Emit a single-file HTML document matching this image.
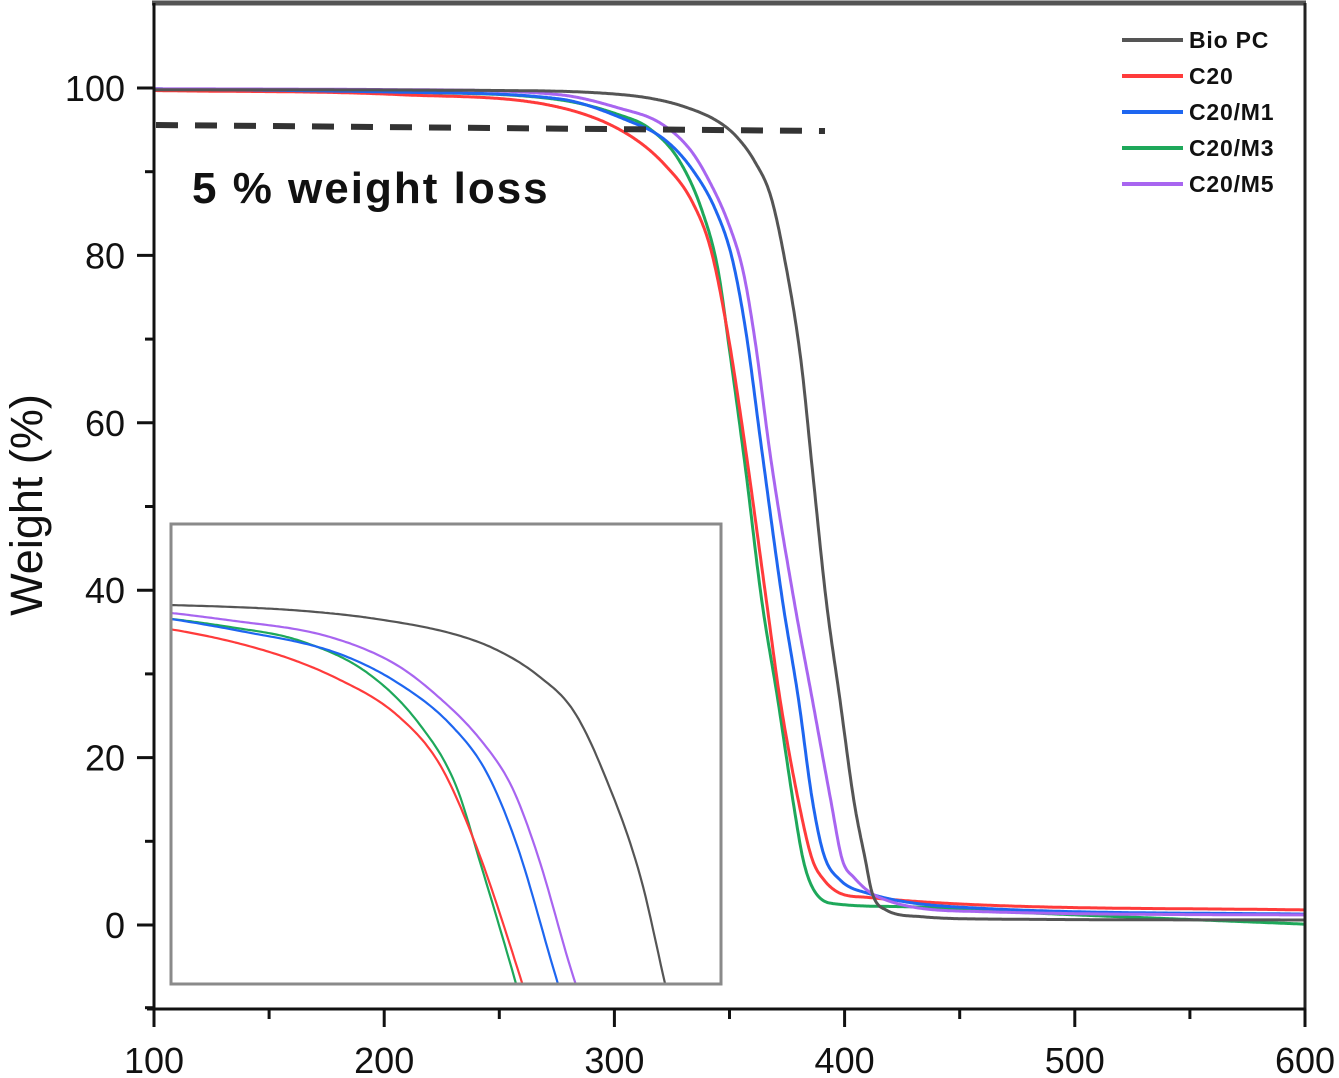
<!DOCTYPE html>
<html><head><meta charset="utf-8"><style>
html,body{margin:0;padding:0;background:#fff;overflow:hidden;width:1339px;height:1078px;}
svg{display:block;font-family:"Liberation Sans",Arial,sans-serif;}
</style></head><body>
<svg id="chart" width="1339" height="1078" viewBox="0 0 1339 1078" xmlns="http://www.w3.org/2000/svg">
<defs>
<clipPath id="mainClip"><rect x="154" y="3" width="1151" height="1006"/></clipPath>
<clipPath id="insetClip"><rect x="171" y="524" width="549" height="459"/></clipPath>
</defs>
<g id="marks"></g>
<rect x="171" y="524" width="550" height="460" fill="none" stroke="#8a8a8a" stroke-width="3"/>
<line x1="152" y1="3" x2="1306" y2="3" stroke="#555" stroke-width="5"/>
<line x1="1305" y1="3" x2="1305" y2="1009" stroke="#222" stroke-width="3"/>
<line x1="154" y1="3" x2="154" y2="1010" stroke="#111" stroke-width="3"/>
<line x1="147" y1="1009" x2="1306" y2="1009" stroke="#111" stroke-width="3"/>
<g id="axes"></g>
<line x1="156" y1="125" x2="825" y2="131" stroke="#333" stroke-width="6" stroke-dasharray="22,17"/>
<text x="192" y="203" font-size="44" font-weight="bold" letter-spacing="2" fill="#111">5 % weight loss</text>
<text transform="translate(42,505) rotate(-90)" text-anchor="middle" font-size="45" fill="#111">Weight (%)</text>
<g id="legend"></g>
</svg>
<script>
const xTicks = [100, 200, 300, 400, 500, 600];
const yTicks = [0, 20, 40, 60, 80, 100];
const seriesNames = ["Bio PC", "C20", "C20/M1", "C20/M3", "C20/M5"];
const seriesColors = ["#555555", "#ff3b3b", "#1e66f0", "#1ea85a", "#a865f0"];
const bioPcT = [100,250,294,315,330,345,353,361,368,374,381,386,392,398,404,409,412,418,433,468,600];
const bioPcW = [99.8,99.7,99.4,98.8,97.8,96.0,94.2,91.2,87.0,79.5,67.5,54.4,38.8,26.9,14.9,7.8,3.8,1.8,1.0,0.7,0.6];
const c20T = [100,207,276,305,322,334,342,349,357,366,372,381,386,391,398,410,459,600];
const c20W = [99.7,99.2,97.7,94.6,90.8,86.3,80.6,71.1,56.8,38.8,26.9,13.4,7.8,5.4,3.8,3.3,2.4,1.8];
const m1T = [100,207,276,305,322,334,344,351,357,364,373,380,386,391,398,410,459,600];
const m1W = [99.9,99.5,98.7,96.2,93.8,90.2,85.4,79.8,71.1,56.8,38.8,26.9,14.9,8.4,5.4,3.8,2.0,1.3];
const m3T = [100,207,276,302,315,328,338,345,350,357,364,371,378,382,386,394,424,468,600];
const m3W = [99.9,99.5,98.6,96.8,95.2,91.4,85.4,78.3,68.7,54.4,38.8,26.9,14.1,7.8,4.5,2.6,2.2,1.6,0.1];
const m5T = [100,207,276,302,320,333,341,350,356,361,368,378,386,394,399,404,415,459,600];
const m5W = [99.9,99.8,99.2,97.6,95.8,92.6,89.0,83.5,78.0,70.0,55.6,38.8,26.9,14.9,7.8,5.7,3.3,1.6,1.2];
const seriesT = [bioPcT, c20T, m1T, m3T, m5T];
const seriesW = [bioPcW, c20W, m1W, m3W, m5W];
const drawOrder = [3, 1, 2, 4, 0];

const NS = "http://www.w3.org/2000/svg";
function xMain(t){ return 154 + (t - 100) * 2.302; }
function yMain(w){ return 925 - w * 8.37; }
function xInset(t){ return 170 + (t - 289.3) * 5.13; }
function yInset(w){ return 604 + (99.6 - w) * 8.5; }

function monotoneSample(X, Y, step){
  const n = X.length, d = [], m = new Array(n);
  for (let i = 0; i < n-1; i++) d.push((Y[i+1]-Y[i])/(X[i+1]-X[i]));
  m[0] = d[0]; m[n-1] = d[n-2];
  for (let i = 1; i < n-1; i++) m[i] = (d[i-1]*d[i] <= 0) ? 0 : (d[i-1]+d[i])/2;
  for (let i = 0; i < n-1; i++){
    if (d[i] === 0){ m[i] = 0; m[i+1] = 0; continue; }
    const a = m[i]/d[i], b = m[i+1]/d[i], s = a*a + b*b;
    if (s > 9){ const t = 3/Math.sqrt(s); m[i] = t*a*d[i]; m[i+1] = t*b*d[i]; }
  }
  const out = [];
  for (let i = 0; i < n-1; i++){
    const h = X[i+1]-X[i];
    const k = Math.max(1, Math.ceil(h/step));
    for (let j = 0; j < k; j++){
      const t = j/k, t2 = t*t, t3 = t2*t;
      const y = (2*t3-3*t2+1)*Y[i] + (t3-2*t2+t)*h*m[i] + (-2*t3+3*t2)*Y[i+1] + (t3-t2)*h*m[i+1];
      out.push([X[i]+t*h, y]);
    }
  }
  out.push([X[n-1], Y[n-1]]);
  return out;
}

const marks = document.getElementById("marks");
const mainG = document.createElementNS(NS, "g");
mainG.setAttribute("clip-path", "url(#mainClip)");


marks.appendChild(mainG);
const insetG = document.createElementNS(NS, "g");
insetG.setAttribute("clip-path", "url(#insetClip)");


marks.appendChild(insetG);

drawOrder.forEach(function(i){
  const pts = monotoneSample(seriesT[i], seriesW[i], 0.5);
  const slug = seriesNames[i].toLowerCase().replace(/[^a-z0-9]+/g, "-");
  const p = document.createElementNS(NS, "polyline");
  p.setAttribute("points", pts.map(function(q){ return xMain(q[0]).toFixed(1) + "," + yMain(q[1]).toFixed(1); }).join(" "));
  p.setAttribute("fill", "none");
  p.setAttribute("stroke", seriesColors[i]);
  p.setAttribute("stroke-width", "3");
  p.setAttribute("stroke-linejoin", "round");
  
  
  mainG.appendChild(p);
  const q = document.createElementNS(NS, "polyline");
  q.setAttribute("points", pts.map(function(r){ return xInset(r[0]).toFixed(1) + "," + yInset(r[1]).toFixed(1); }).join(" "));
  q.setAttribute("fill", "none");
  q.setAttribute("stroke", seriesColors[i]);
  q.setAttribute("stroke-width", "2.2");
  q.setAttribute("stroke-linejoin", "round");
  
  
  insetG.appendChild(q);
});

const axes = document.getElementById("axes");
function line(x1,y1,x2,y2,w,name){
  const l = document.createElementNS(NS, "line");
  l.setAttribute("x1", x1); l.setAttribute("y1", y1);
  l.setAttribute("x2", x2); l.setAttribute("y2", y2);
  l.setAttribute("stroke", "#111"); l.setAttribute("stroke-width", w);
  
  
  axes.appendChild(l);
}
function label(x,y,txt,anchor,name){
  const t = document.createElementNS(NS, "text");
  t.setAttribute("x", x); t.setAttribute("y", y);
  t.setAttribute("text-anchor", anchor);
  t.setAttribute("font-size", "36");
  t.setAttribute("fill", "#111");
  t.textContent = txt;
  
  
  axes.appendChild(t);
}
xTicks.forEach(function(v, k){
  const x = xMain(v);
  line(x, 1009, x, 1027, 3, "x-tick-" + v);
  label(x, 1073, String(v), "middle", "x-tick-label-" + v);
  if (k < xTicks.length - 1){
    const xm = xMain(v + 50);
    line(xm, 1009, xm, 1019, 3, "x-minor-tick-" + (v + 50));
  }
});
yTicks.forEach(function(v){
  const y = yMain(v);
  line(137, y, 154, y, 3, "y-tick-" + v);
  label(125, y + 13, String(v), "end", "y-tick-label-" + v);
  const ym = yMain(v + 10);
  if (ym > 5) line(145, ym, 154, ym, 3, "y-minor-tick-" + (v + 10));
});
const ymLow = yMain(-10);
line(145, ymLow - 1, 154, ymLow - 1, 3, "y-minor-tick-neg10");

const legend = document.getElementById("legend");
const legendY = [40, 76, 112, 148, 184];
seriesNames.forEach(function(n, i){
  const slug = n.toLowerCase().replace(/[^a-z0-9]+/g, "-");
  const l = document.createElementNS(NS, "line");
  l.setAttribute("x1", 1122); l.setAttribute("x2", 1183);
  l.setAttribute("y1", legendY[i]); l.setAttribute("y2", legendY[i]);
  l.setAttribute("stroke", seriesColors[i]); l.setAttribute("stroke-width", "4");
  
  
  legend.appendChild(l);
  const t = document.createElementNS(NS, "text");
  t.setAttribute("x", 1189); t.setAttribute("y", legendY[i] + 8);
  t.setAttribute("font-size", "23"); t.setAttribute("font-weight", "bold");
  t.setAttribute("letter-spacing", "0.8");
  t.setAttribute("fill", "#111");
  t.textContent = n;
  
  
  legend.appendChild(t);
});
</script>
</body></html>
